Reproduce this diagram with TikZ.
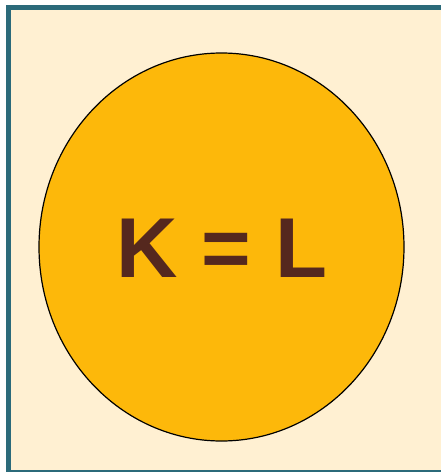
\documentclass[tikz,border=0pt]{standalone}
\usepackage{fontspec}
\setmainfont{Liberation Sans}
\usetikzlibrary{shapes.geometric}
\definecolor{bgc}{HTML}{FFF0D2}
\definecolor{framec}{HTML}{2B6A7A}
\definecolor{circc}{HTML}{FDB80A}
\definecolor{textc}{HTML}{55281E}
\begin{document}
\begin{tikzpicture}[x=1pt,y=-1pt,
  framebox/.style={draw=framec,line width=5pt,fill=bgc},
  bigcirc/.style={ellipse,draw=black,line width=1.2pt,fill=circc,minimum width=365pt,minimum height=388pt,inner sep=0pt},
  eqtext/.style={text=textc,font=\fontsize{85}{90}\selectfont\bfseries}]
\useasboundingbox (0,0) rectangle (441,472);
\fill[white] (0,0) rectangle (441,472);
\draw[framebox] (8.5,7.5) rectangle (446,472.5);
\node[bigcirc] (c) at (221.5,247) {};
\node[eqtext,anchor=base] (t) at (222,277.5) {K = L};
\end{tikzpicture}
\end{document}
